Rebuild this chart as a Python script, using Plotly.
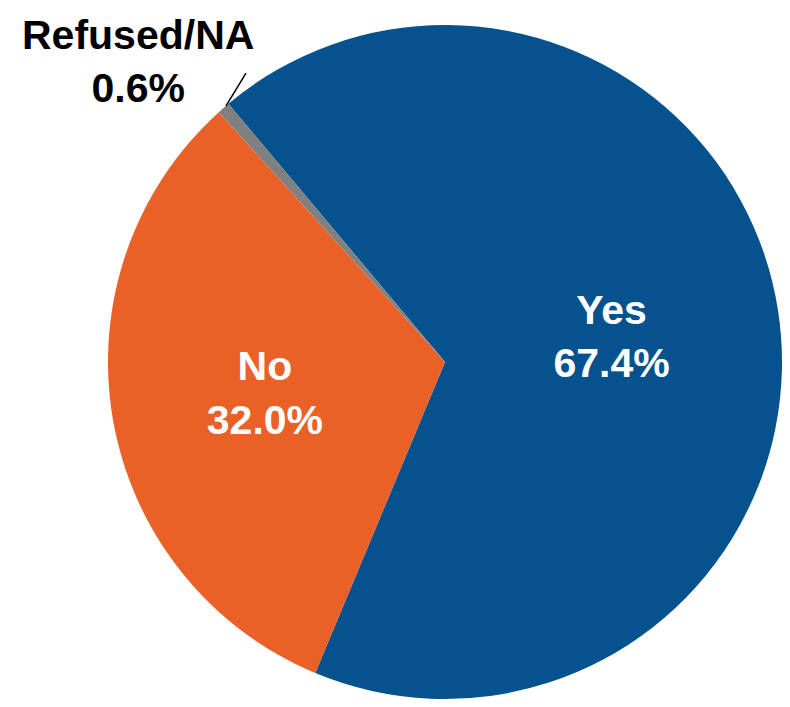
import plotly.graph_objects as go

# survey answers, share of respondents (%)
labels = ['Yes', 'No', 'Refused/NA']
values = [67.4, 32.0, 0.6]
colors = ['#05528F', '#E96127', '#808080']

font_family = 'Liberation Sans Narrow, Arial Narrow, Liberation Sans, Arial'

fig = go.Figure()

fig.add_trace(go.Pie(
    labels=labels,
    values=values,
    sort=False,
    direction='clockwise',
    rotation=-40,
    marker=dict(colors=colors, line=dict(color='white', width=0)),
    texttemplate=['%{label}<br>%{value:.1f}%', '%{label}<br>%{value:.1f}%', ''],
    textposition='inside',
    insidetextorientation='horizontal',
    insidetextfont=dict(family=font_family, size=41, color='white', weight='bold'),
    hoverinfo='label+value',
    domain=dict(x=[0.1292, 1.0], y=[0.0, 0.9754]),
    showlegend=False,
))

# small slice labelled outside with a leader line
fig.add_annotation(
    x=0.168, y=0.922, xref='paper', yref='paper',
    xanchor='center', yanchor='middle',
    text=f'{labels[2]}<br>{values[2]:.1f}%',
    showarrow=False,
    font=dict(family=font_family, size=41, color='black', weight='bold'),
    align='center',
)
fig.add_shape(type='line', xref='paper', yref='paper',
              x0=0.2817, y0=0.8582, x1=0.3075, y1=0.9059,
              line=dict(color='black', width=1.5))

fig.update_layout(
    width=774, height=691,
    margin=dict(l=0, r=0, t=0, b=0),
    paper_bgcolor='white',
    plot_bgcolor='white',
)

fig.write_html("out.html")
